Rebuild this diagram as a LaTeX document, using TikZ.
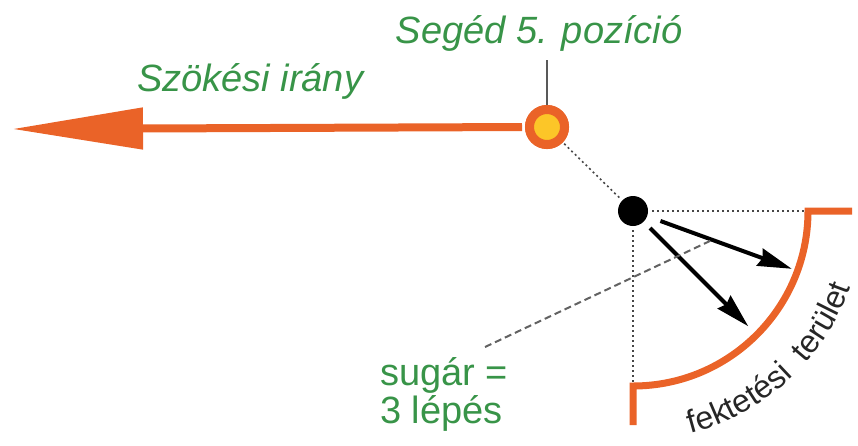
\documentclass[tikz,border=0pt]{standalone}
\usepackage{fontspec}
\setmainfont{Liberation Sans}
\usetikzlibrary{arrows.meta, decorations.text}
\definecolor{runorange}{RGB}{234,99,40}
\definecolor{posyellow}{RGB}{252,198,40}
\definecolor{labelgreen}{RGB}{56,148,72}
\definecolor{guidegray}{RGB}{70,70,70}
\begin{document}
\begin{tikzpicture}[
     x=1pt, y=-1pt,
GreenText/.style={text=labelgreen, inner sep=0pt,
                  font=\fontsize{38}{38}\selectfont},
PosMark/.style={circle, fill=posyellow, draw=runorange, line width=9pt,
                minimum size=35pt, inner sep=0pt},
LayDot/.style={circle, fill=black, minimum size=30pt, inner sep=0pt},
GuideDots/.style={draw=guidegray, line width=1.6pt, dash pattern=on 2pt off 3pt},
GuideDash/.style={draw=guidegray!85, line width=2pt, dash pattern=on 7pt off 4pt},
LayArrow/.style={line width=4pt, -{Stealth[length=34pt, width=18pt, inset=3pt]}},
  ]
\useasboundingbox (0,0) rectangle (858,445);
% labels
\node [GreenText, anchor=base] (poslabel) at (539,43) {\itshape Segéd 5. pozíció};
\node [GreenText, anchor=base west] (runlabel) at (137,91) {\itshape Szökési irány};
\node [GreenText, anchor=south west, align=left] (radlabel) at (380,432) {sugár =\\3 lépés};
% positions
\node [PosMark] (pos) at (547,127) {};
\node [LayDot] (lay) at (633,211) {};
\coordinate (tip) at (12,129);
\coordinate (lead) at (547,60);
\coordinate (arctop) at (808,211);
\coordinate (arcbot) at (633,386);
\coordinate (aim1) at ([shift={(20:169)}]lay.center);
\coordinate (aim2) at ([shift={(45:163)}]lay.center);
\coordinate (radlead) at (485,347);
% guides
\draw [GuideDots, shorten <=2pt, shorten >=2pt] (pos) -- (lay);
\draw [GuideDots, shorten <=4pt] (lay) -- (arctop);
\draw [GuideDots, shorten <=4pt] (lay) -- (arcbot);
\draw [draw=guidegray!90, line width=2pt] (pos) -- (lead);
% escape direction
\draw [runorange, line width=8pt, shorten <=3pt,
       -{Triangle[length=131pt, width=40pt]}] (pos.west) -- (tip);
\node [PosMark] at (pos) {};
% laying area
\draw [runorange, line width=7pt] (852,211) -- (arctop)
      arc[start angle=0, end angle=90, radius=175] -- (633,425);
\path [decorate, decoration={text along path, text align=left,
       text={|\fontsize{32}{32}\selectfont\color{black!85}|fektetési{ }{ }terület}}]
      ([shift={(75.5:230)}]lay.center) arc[start angle=75.5, end angle=5, radius=230];
\draw [LayArrow, shorten <=14pt] (lay) -- coordinate[pos=0.45] (mid1) (aim1);
\draw [LayArrow, shorten <=9pt] (lay) -- (aim2);
\draw [GuideDash] (radlead) -- (mid1);
\end{tikzpicture}
\end{document}
